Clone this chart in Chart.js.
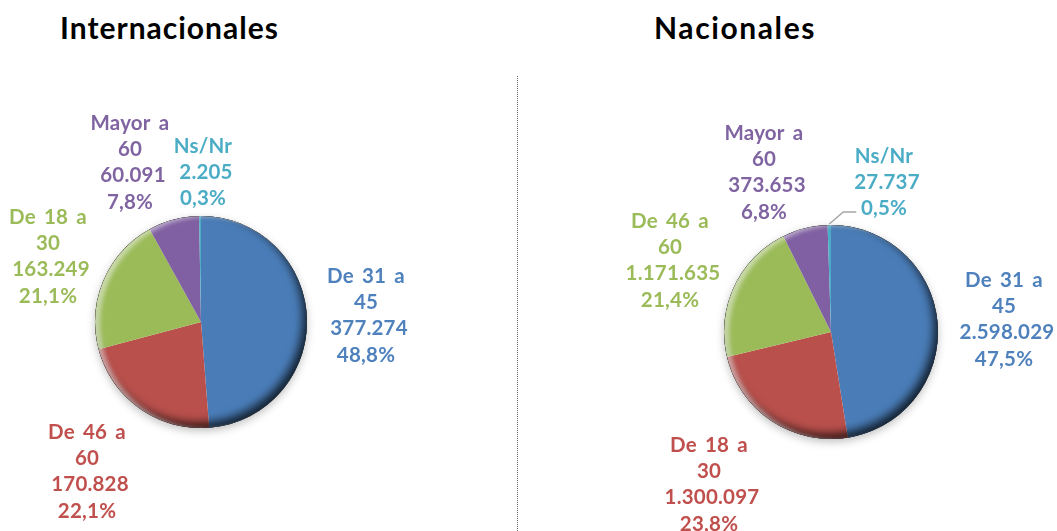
<!DOCTYPE html>
<html>
<head>
<meta charset="utf-8">
<script src="https://cdn.jsdelivr.net/npm/chart.js@4"></script>
<style>
    html, body { margin: 0; padding: 0; background: #fff; }
    body { position: relative; width: 1057px; height: 531px; overflow: hidden; }
    canvas { position: absolute; top: 0; }
    #chart-int { left: 0; }
    #chart-nac { left: 518px; }
    .title { position: absolute; top: 9px; font: bold 30px Lato, sans-serif; letter-spacing: 1px; color: #000; white-space: nowrap; }
    #title-int { left: 60px; }
    #title-nac { left: 654px; letter-spacing: 1.6px; }
    #divider { position: absolute; left: 517px; top: 76px; height: 455px; border-left: 1px dotted #666; }
</style>
</head>
<body>
<div class="title" id="title-int">Internacionales</div>
<div class="title" id="title-nac">Nacionales</div>
<div id="divider"></div>
<canvas id="chart-int" width="517" height="531"></canvas>
<canvas id="chart-nac" width="539" height="531"></canvas>
<script>
const intCategories = ['De 31 a 45', 'De 46 a 60', 'De 18 a 30', 'Mayor a 60', 'Ns/Nr'];
const intValues = [377274, 170828, 163249, 60091, 2205];
const intPercents = ['48,8%', '22,1%', '21,1%', '7,8%', '0,3%'];

const nacCategories = ['De 31 a 45', 'De 18 a 30', 'De 46 a 60', 'Mayor a 60', 'Ns/Nr'];
const nacValues = [2598029, 1300097, 1171635, 373653, 27737];
const nacPercents = ['47,5%', '23,8%', '21,4%', '6,8%', '0,5%'];

const sliceColors = ['#4a7db8', '#b9504c', '#9bbb59', '#8060a2', '#4bacc6'];
const textColors = ['#4f81bd', '#c0504d', '#9bbb59', '#8064a2', '#4bacc6'];

// where the first line of each label goes, in page pixels (centre x, middle y)
const intLabelPos = [[366, 276], [87, 432], [48, 217], [130, 123], [203, 146]];
const nacLabelPos = [[1004, 280], [709, 445], [670, 221], [764, 133], [884, 156]];

const lineHeight = 26.3;
const labelFont = 'bold 20.5px Lato, sans-serif';

// "De 31 a 45" wraps before the last word, Ns/Nr stays on one line
function wrapCategory(name) {
    const i = name.lastIndexOf(' ');
    return i < 0 ? [name] : [name.slice(0, i), name.slice(i + 1)];
}

const pieStyle = {
    id: 'pieStyle',
    beforeDatasetsDraw(chart) {
        const arc = chart.getDatasetMeta(0).data[0];
        const ctx = chart.ctx;
        ctx.save();
        ctx.shadowColor = 'rgba(0,0,0,0.25)';
        ctx.shadowBlur = 9;
        ctx.shadowOffsetY = 3;
        ctx.fillStyle = '#fff';
        ctx.beginPath();
        ctx.arc(arc.x, arc.y, arc.outerRadius, 0, Math.PI * 2);
        ctx.fill();
        ctx.restore();
    },
    afterDatasetsDraw(chart) {
        const arc = chart.getDatasetMeta(0).data[0];
        const ctx = chart.ctx;
        const r = arc.outerRadius;
        const innerShadow = (color, blur, dx, dy) => {
            ctx.save();
            ctx.beginPath();
            ctx.arc(arc.x, arc.y, r, 0, Math.PI * 2);
            ctx.clip();
            ctx.shadowColor = color;
            ctx.shadowBlur = blur;
            ctx.shadowOffsetX = dx;
            ctx.shadowOffsetY = dy;
            ctx.fillStyle = '#000';
            ctx.beginPath();
            ctx.rect(arc.x - r * 2, arc.y - r * 2, r * 4, r * 4);
            ctx.arc(arc.x, arc.y, r, 0, Math.PI * 2, true);
            ctx.fill();
            ctx.restore();
        };
        innerShadow('rgba(0,0,0,0.75)', 10, -4, -5);
        innerShadow('rgba(255,255,255,0.5)', 4, 5, 1);
    }
};

const pieLabels = {
    id: 'pieLabels',
    afterDraw(chart, args, opts) {
        const ctx = chart.ctx;
        const left = chart.canvas.offsetLeft;
        ctx.save();
        ctx.font = labelFont;
        ctx.letterSpacing = '0.2px';
        ctx.wordSpacing = '3px';
        ctx.textAlign = 'center';
        ctx.textBaseline = 'middle';
        opts.categories.forEach((name, i) => {
            const [x, y] = opts.positions[i];
            const nameLines = wrapCategory(name);
            const number = opts.values[i].toLocaleString('de-DE');
            ctx.fillStyle = textColors[i];
            nameLines.forEach((line, n) => {
                ctx.fillText(line, x - left, y + n * lineHeight);
            });
            const next = nameLines.length;
            ctx.fillText(number, x - left + 3, y + next * lineHeight);
            ctx.fillText(opts.percents[i], x - left, y + (next + 1) * lineHeight);
        });
        ctx.restore();
    }
};

const leaderLine = {
    id: 'leaderLine',
    afterDraw(chart) {
        if (chart.canvas.id !== 'chart-nac') return;
        const arc = chart.getDatasetMeta(0).data[4];
        const ctx = chart.ctx;
        const mid = (arc.startAngle + arc.endAngle) / 2;
        const sx = arc.x + Math.cos(mid) * (arc.outerRadius + 1);
        const sy = arc.y + Math.sin(mid) * (arc.outerRadius + 1);
        ctx.save();
        ctx.strokeStyle = '#a6a6a6';
        ctx.lineWidth = 1.5;
        ctx.beginPath();
        ctx.moveTo(sx, sy);
        ctx.lineTo(sx + 14, sy - 12);
        ctx.lineTo(sx + 27, sy - 12);
        ctx.stroke();
        ctx.restore();
    }
};

function makePie(id, categories, values, percents, positions, padding) {
    return new Chart(document.getElementById(id), {
        type: 'pie',
        data: {
            labels: categories,
            datasets: [{
                data: values,
                backgroundColor: sliceColors,
                borderWidth: 0
            }]
        },
        options: {
            responsive: false,
            animation: false,
            layout: { padding: padding },
            plugins: {
                legend: { display: false },
                tooltip: { enabled: false },
                pieLabels: { categories, values, percents, positions }
            }
        },
        plugins: [pieStyle, pieLabels, leaderLine]
    });
}

makePie('chart-int', intCategories, intValues, intPercents, intLabelPos,
    { left: 95, right: 210, top: 216, bottom: 103 });
makePie('chart-nac', nacCategories, nacValues, nacPercents, nacLabelPos,
    { left: 206, right: 119, top: 225, bottom: 92 });
</script>
</body>
</html>
